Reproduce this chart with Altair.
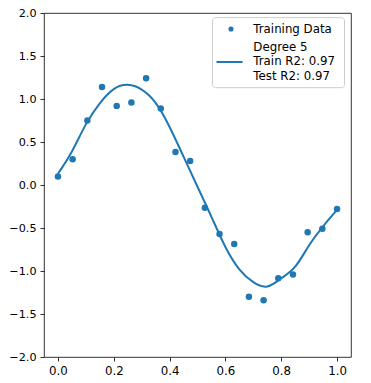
import altair as alt
import pandas as pd

# Training data
train_x = [i / 19 for i in range(20)]
train_y = [0.10, 0.30, 0.75, 1.14, 0.92, 0.96, 1.24, 0.89, 0.385, 0.28,
           -0.265, -0.57, -0.685, -1.30, -1.34, -1.085, -1.04, -0.55, -0.51, -0.28]

# Degree-5 fitted curve
curve_x = [0.0, 0.05, 0.10, 0.15, 0.20, 0.25, 0.30, 0.35, 0.40, 0.45, 0.50,
           0.55, 0.60, 0.65, 0.70, 0.75, 0.80, 0.85, 0.90, 0.95, 1.00]
curve_y = [0.13, 0.39, 0.705, 0.95, 1.115, 1.165, 1.11, 0.955, 0.675, 0.33, -0.02,
           -0.37, -0.72, -0.98, -1.13, -1.18, -1.085, -0.95, -0.70, -0.48, -0.29]

x_ticks = [0.0, 0.2, 0.4, 0.6, 0.8, 1.0]
y_ticks = [-2.0, -1.5, -1.0, -0.5, 0.0, 0.5, 1.0, 1.5, 2.0]

legend_labels = ["Training Data", "Degree 5", "Train R2: 0.97", "Test R2: 0.97"]

BLUE = "#1f77b4"
FONT = "DejaVu Sans"
FS = 11.8

pts = pd.DataFrame({"x": train_x, "y": train_y})
crv = pd.DataFrame({"x": curve_x, "y": curve_y})
one = pd.DataFrame({"k": [0]})

xs = alt.Scale(domain=[-0.05, 1.05], nice=False, zero=False)
ys = alt.Scale(domain=[-2.0, 2.0], nice=False, zero=False)

xax = alt.Axis(values=x_ticks, format=".1f", title=None, grid=False, domain=False,
               tickSize=4, tickColor="#000", tickWidth=0.8, labelPadding=4,
               labelFont=FONT, labelFontSize=FS, labelColor="#000")
yax = alt.Axis(values=y_ticks, format=".1f", title=None, grid=False, domain=False,
               tickSize=4, tickColor="#000", tickWidth=0.8, labelPadding=4,
               labelFont=FONT, labelFontSize=11.2, labelColor="#000")

points = alt.Chart(pts).mark_circle(color=BLUE, opacity=1, size=42).encode(
    x=alt.X("x:Q", scale=xs, axis=xax),
    y=alt.Y("y:Q", scale=ys, axis=yax),
)

line = alt.Chart(crv).mark_line(color=BLUE, strokeWidth=2, interpolate="natural").encode(
    x=alt.X("x:Q", scale=xs),
    y=alt.Y("y:Q", scale=ys),
)

# Legend (drawn manually, matplotlib style); offsets relative to plot area
TOP = 2
LEFT = 1
box = alt.Chart(one).mark_rect(fill="white", fillOpacity=0.8, stroke="#cccccc",
                                strokeWidth=1, cornerRadius=3).encode(
    x=alt.value(169.5 - LEFT), x2=alt.value(301.5 - LEFT),
    y=alt.value(6.7 - TOP), y2=alt.value(76.7 - TOP))

sym = alt.Chart(one).mark_circle(color=BLUE, opacity=1, size=26).encode(
    x=alt.value(188 - LEFT), y=alt.value(18 - TOP))

lsym = alt.Chart(one).mark_rule(color=BLUE, strokeWidth=2).encode(
    x=alt.value(173.5 - LEFT), x2=alt.value(199.5 - LEFT), y=alt.value(51 - TOP))

def ltext(label, y):
    return alt.Chart(one).mark_text(text=label, align="left", baseline="middle",
                                    font=FONT, fontSize=FS, color="#000").encode(
        x=alt.value(210.3 - LEFT), y=alt.value(y - TOP))

texts = [ltext(legend_labels[0], 17.5), ltext(legend_labels[1], 36.3),
         ltext(legend_labels[2], 50.2), ltext(legend_labels[3], 64.7)]

chart = alt.layer(line, points, box, sym, lsym, *texts).properties(
    width=307, height=344,
    autosize=alt.AutoSizeParams(type="none"),
    padding={"left": 36, "top": 5, "right": 12, "bottom": 26},
).configure_view(stroke="#000", strokeWidth=0.8)

chart.save("out.html", embed_options={"renderer": "svg", "actions": False})
